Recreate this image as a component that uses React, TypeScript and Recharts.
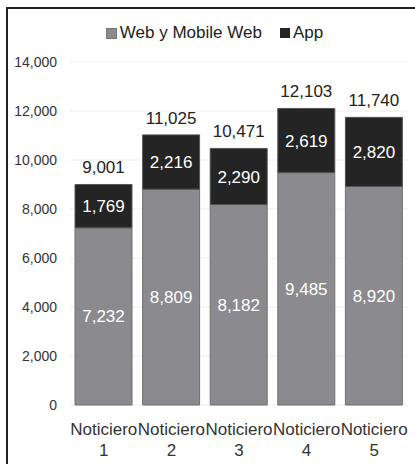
import React from 'react';
import { BarChart, Bar, XAxis, YAxis, CartesianGrid, LabelList } from 'recharts';

const categories = ['Noticiero 1', 'Noticiero 2', 'Noticiero 3', 'Noticiero 4', 'Noticiero 5'];
const webValues = [7232, 8809, 8182, 9485, 8920];
const appValues = [1769, 2216, 2290, 2619, 2820];
const totals = [9001, 11025, 10471, 12103, 11740];
const yTicks = [0, 2000, 4000, 6000, 8000, 10000, 12000, 14000];

const data = categories.map((name, i) => ({
  name,
  web: webValues[i],
  app: appValues[i],
  total: totals[i],
}));

const FONT = 'Liberation Sans, Arial, sans-serif';
const GRAY = '#8b8b8f';
const DARK = '#242424';

const fmt = (v: number) => v.toLocaleString('en-US');

const CategoryTick = (props: any) => {
  const { x, y, payload } = props;
  const parts = String(payload.value).split(' ');
  return (
    <text x={x} y={y} textAnchor="middle" fill="#333" fontSize={17} fontFamily={FONT}>
      <tspan x={x} dy={22}>{parts[0]}</tspan>
      <tspan x={x} dy={21}>{parts[1]}</tspan>
    </text>
  );
};

const TotalLabel = (props: any) => {
  const { x, y, width, index } = props;
  return (
    <text x={x + width / 2} y={y - 11} textAnchor="middle" fill="#222" fontSize={17} fontFamily={FONT}>
      {fmt(totals[index])}
    </text>
  );
};

const App: React.FC = () => {
  return (
    <div style={{ position: 'absolute', left: 0, top: 0, width: 415, height: 464, background: '#fff', fontFamily: FONT }}>
      <div style={{ position: 'absolute', left: 6, top: 7, right: 0, bottom: 0, borderTop: '2px solid #222', borderLeft: '2px solid #222' }} />
      <div style={{ position: 'absolute', top: 22, left: 0, width: 415, display: 'flex', justifyContent: 'center', paddingLeft: 14, boxSizing: 'border-box', fontSize: 17, color: '#222', lineHeight: '22px' }}>
        <span style={{ display: 'flex', alignItems: 'center', marginRight: 18 }}>
          <span style={{ width: 9, height: 9, background: GRAY, border: '1px solid #777', marginRight: 3, display: 'inline-block' }} />
          Web y Mobile Web
        </span>
        <span style={{ display: 'flex', alignItems: 'center' }}>
          <span style={{ width: 10, height: 10, background: DARK, marginRight: 3, display: 'inline-block' }} />
          App
        </span>
      </div>
      <BarChart
        width={415}
        height={464}
        data={data}
        margin={{ top: 62, right: 7, bottom: 0, left: 0 }}
        barSize={57}
        style={{ position: 'absolute', left: 0, top: 0 }}
      >
        <CartesianGrid vertical={false} stroke="#eeeeee" />
        <XAxis
          dataKey="name"
          axisLine={false}
          tickLine={false}
          height={59}
          interval={0}
          tick={<CategoryTick />}
        />
        <YAxis
          domain={[0, 14000]}
          ticks={yTicks}
          axisLine={false}
          tickLine={false}
          width={70}
          tickMargin={7}
          tickFormatter={fmt}
          tick={{ fontSize: 14, fill: '#333', fontFamily: FONT }}
        />
        <Bar dataKey="web" stackId="a" fill={GRAY} stroke="#6f6f72" strokeWidth={1} isAnimationActive={false}>
          <LabelList dataKey="web" position="center" formatter={(v: any) => fmt(Number(v))} fill="#fff" fontSize={17} fontFamily={FONT} />
        </Bar>
        <Bar dataKey="app" stackId="a" fill={DARK} stroke="#555" strokeWidth={1} isAnimationActive={false}>
          <LabelList dataKey="app" position="center" formatter={(v: any) => fmt(Number(v))} fill="#fff" fontSize={17} fontFamily={FONT} />
          <LabelList dataKey="total" content={<TotalLabel />} />
        </Bar>
      </BarChart>
    </div>
  );
};

export default App;
